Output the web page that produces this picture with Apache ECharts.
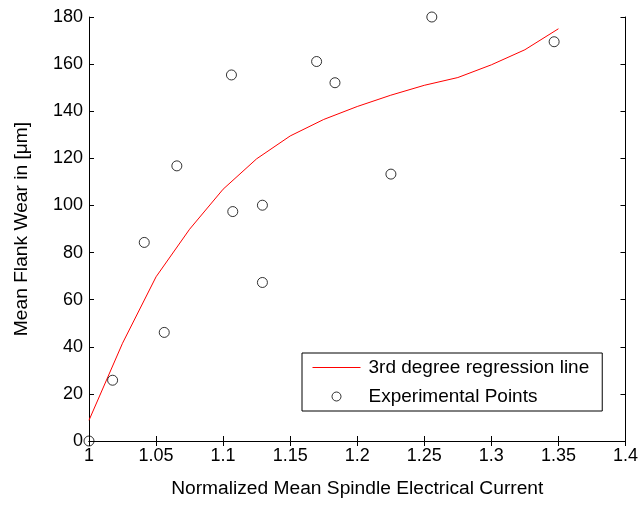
<!DOCTYPE html>
<html>
<head>
<meta charset="utf-8">
<script src="https://cdn.jsdelivr.net/npm/echarts@6/dist/echarts.min.js"></script>
<style>html,body{margin:0;padding:0;background:#fff}#c{width:641px;height:505px}</style>
</head>
<body>
<div id="c"></div>
<script>
// Experimental points
var pointX = [1.0, 1.0176, 1.0412, 1.0561, 1.0655, 1.1062, 1.1072, 1.1293, 1.1293, 1.1697, 1.1834, 1.2251, 1.2556, 1.3468];
var pointY = [0, 25.8, 84.3, 46.1, 116.8, 155.4, 97.4, 100.1, 67.3, 161.1, 152.1, 113.3, 180, 169.5];
// 3rd degree regression line (sampled)
var lineX = [1.000, 1.025, 1.050, 1.075, 1.100, 1.125, 1.150, 1.175, 1.200, 1.225, 1.250, 1.275, 1.300, 1.325, 1.350];
var lineY = [8.8, 41.5, 69.7, 89.9, 106.9, 119.8, 129.5, 136.5, 142.0, 146.8, 151.0, 154.3, 159.7, 166.1, 175.0];
var xTicks = {min: 1, max: 1.4, step: 0.05};
var yTicks = {min: 0, max: 180, step: 20};
var names = {line: '3rd degree regression line', points: 'Experimental Points',
  xName: 'Normalized Mean Spindle Electrical Current', yName: 'Mean Flank Wear in [\u03bcm]'};

var FONT = '"Liberation Sans", Arial, sans-serif';
function zip(a, b) { return a.map(function (v, i) { return [v, b[i]]; }); }

var axisCommon = {
  axisLine: {show: true, lineStyle: {color: '#000', width: 1}},
  axisTick: {show: true, inside: true, length: 5, lineStyle: {color: '#000'}},
  splitLine: {show: false}
};
function mk(base, extra) { return Object.assign({}, axisCommon, base, extra); }

var chart = echarts.init(document.getElementById('c'), null, {renderer: 'canvas'});
chart.setOption({
  backgroundColor: '#fff',
  animation: false,
  grid: {left: 89, right: 14, top: 17, bottom: 64, containLabel: false},
  xAxis: [
    mk({type: 'value', min: xTicks.min, max: xTicks.max, interval: xTicks.step, position: 'bottom'}, {
      name: names.xName, nameLocation: 'middle', nameGap: 38,
      nameTextStyle: {fontSize: 19.2, color: '#000', fontFamily: FONT},
      axisLabel: {fontSize: 18, color: '#000', fontFamily: FONT, margin: 6}
    }),
    mk({type: 'value', min: xTicks.min, max: xTicks.max, interval: xTicks.step, position: 'top'}, {
      axisLabel: {show: false}
    })
  ],
  yAxis: [
    mk({type: 'value', min: yTicks.min, max: yTicks.max, interval: yTicks.step, position: 'left'}, {
      name: names.yName, nameLocation: 'middle', nameGap: 58, nameRotate: 90,
      nameTextStyle: {fontSize: 19.2, color: '#000', fontFamily: FONT},
      axisLabel: {fontSize: 18, color: '#000', fontFamily: FONT, margin: 6}
    }),
    mk({type: 'value', min: yTicks.min, max: yTicks.max, interval: yTicks.step, position: 'right'}, {
      axisLabel: {show: false}
    })
  ],
  legend: {
    orient: 'vertical', left: 302, top: 353,
    backgroundColor: '#fff', borderColor: '#000', borderWidth: 1, borderRadius: 0,
    padding: [5, 13, 5, 10], itemGap: 10, itemWidth: 48, itemHeight: 9,
    textStyle: {fontSize: 19, color: '#000', fontFamily: FONT, padding: [0, 0, 0, 3]},
    data: [
      {name: names.line, itemStyle: {color: 'rgba(0,0,0,0)', borderColor: 'rgba(0,0,0,0)', borderWidth: 0},
       lineStyle: {color: '#ff0000', width: 1}},
      {name: names.points, itemStyle: {color: 'rgba(0,0,0,0)', borderColor: '#000', borderWidth: 1}}
    ]
  },
  series: [
    {
      name: names.line, type: 'line', xAxisIndex: 0, yAxisIndex: 0,
      data: zip(lineX, lineY), showSymbol: false, symbol: 'none',
      lineStyle: {color: '#ff0000', width: 1}, itemStyle: {color: '#ff0000'},
      clip: false, z: 3
    },
    {
      name: names.points, type: 'scatter', xAxisIndex: 0, yAxisIndex: 0,
      data: zip(pointX, pointY), symbol: 'circle', symbolSize: 10,
      itemStyle: {color: 'rgba(0,0,0,0)', borderColor: '#000', borderWidth: 1},
      clip: false, z: 4
    }
  ]
});
</script>
</body>
</html>
